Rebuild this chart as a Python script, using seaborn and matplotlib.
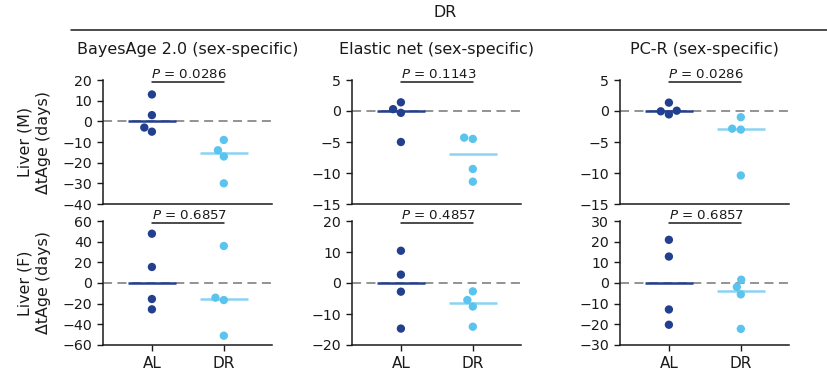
import numpy as np
import pandas as pd
import matplotlib
matplotlib.use("Agg")
import matplotlib.pyplot as plt
from matplotlib.lines import Line2D
import seaborn as sns

sns.set_theme(style="ticks")
plt.rcParams['font.family'] = ['DejaVu Sans']
plt.rcParams['mathtext.fontset'] = 'dejavusans'
plt.rcParams['text.color'] = '#1a1a1a'
plt.rcParams['xtick.color'] = '#1a1a1a'
plt.rcParams['ytick.color'] = '#1a1a1a'
plt.rcParams['axes.labelcolor'] = '#1a1a1a'

groups = ["AL", "DR"]
methods = ["BayesAge 2.0 (sex-specific)", "Elastic net (sex-specific)", "PC-R (sex-specific)"]
tissues = ["Liver (M)", "Liver (F)"]

bayes_m_al = [13.0, 3.0, -5.0, -3.0]
bayes_m_dr = [-9.0, -14.0, -17.0, -30.0]
bayes_f_al = [47.7, 15.5, -15.5, -25.5]
bayes_f_dr = [35.8, -14.2, -16.5, -51.0]
enet_m_al = [0.3, 1.4, -0.3, -5.0]
enet_m_dr = [-4.5, -4.3, -9.35, -11.4]
enet_f_al = [10.4, 2.7, -2.8, -14.7]
enet_f_dr = [-2.7, -5.5, -7.6, -14.1]
pcr_m_al = [-0.55, 1.35, 0.05, -0.05]
pcr_m_dr = [-1.0, -2.85, -3.0, -10.4]
pcr_f_al = [20.9, 12.8, -12.8, -20.2]
pcr_f_dr = [1.6, -1.9, -5.5, -22.2]

pvals = [["0.0286", "0.1143", "0.0286"],
         ["0.6857", "0.4857", "0.6857"]]
ylims = [[(-40, 20), (-15, 5), (-15, 5)],
         [(-60, 60), (-20, 20), (-30, 30)]]
yticks = [[np.arange(-40, 21, 10), np.arange(-15, 6, 5), np.arange(-15, 6, 5)],
          [np.arange(-60, 61, 20), np.arange(-20, 21, 10), np.arange(-30, 31, 10)]]

data = [[(bayes_m_al, bayes_m_dr), (enet_m_al, enet_m_dr), (pcr_m_al, pcr_m_dr)],
        [(bayes_f_al, bayes_f_dr), (enet_f_al, enet_f_dr), (pcr_f_al, pcr_f_dr)]]

navy = "#233f8f"
light = "#5bc4ee"
light_line = "#8ad4f2"
palette = {"AL": navy, "DR": light}
line_cols = {"AL": navy, "DR": light_line}

W, H = 827, 375
fig = plt.figure(figsize=(W / 100, H / 100), dpi=100)

col_x = [103, 352, 620]
ax_w = 169
row_top = [80, 221]
ax_h = 124

FS = 10.2
INK = "#1a1a1a"

for r in range(2):
    for c in range(3):
        left = col_x[c] / W
        bottom = 1 - (row_top[r] + ax_h) / H
        ax = fig.add_axes([left, bottom, ax_w / W, ax_h / H])
        al, dr = data[r][c]
        df = pd.DataFrame({"group": ["AL"] * len(al) + ["DR"] * len(dr),
                           "value": list(al) + list(dr)})
        ax.axhline(0, color="#8a8a8a", lw=1.3, ls=(0, (5, 3)), zorder=1)
        for i, g in enumerate(groups):
            med = np.median(df.loc[df.group == g, "value"])
            ax.hlines(med, i - 0.33, i + 0.33, color=line_cols[g], lw=1.8, zorder=2)
        sns.swarmplot(data=df, x="group", y="value", hue="group", order=groups,
                      palette=palette, size=6.0, legend=False, ax=ax, zorder=3,
                      linewidth=0)
        ax.set_xlim(-0.68, 1.67)
        ax.set_ylim(*ylims[r][c])
        ax.set_yticks(yticks[r][c])
        sns.despine(ax=ax)
        ax.tick_params(axis="y", labelsize=FS, length=4, width=1, pad=4, color=INK)
        ax.tick_params(axis="x", labelsize=FS + 0.8, length=4, width=1, pad=4, color=INK)
        for s in ["left", "bottom"]:
            ax.spines[s].set_linewidth(1.1)
            ax.spines[s].set_color(INK)
        ax.set_xlabel("")
        if r == 0:
            ax.set_xticks([0, 1])
            ax.set_xticklabels([])
            ax.tick_params(axis="x", length=0)
            ax.set_title(methods[c], fontsize=FS + 1.3, pad=19, color=INK)
        else:
            ax.set_xticks([0, 1])
            ax.set_xticklabels(groups)
        if c == 0:
            ax.set_ylabel(tissues[r] + "\nΔtAge (days)", fontsize=FS + 1.2, linespacing=1.25)
            ax.yaxis.set_label_coords(-0.31, 0.5)
        else:
            ax.set_ylabel("")
        trans = ax.get_xaxis_transform()
        ax.plot([0, 1], [0.982, 0.982], color=INK, lw=1.1, transform=trans, clip_on=False)
        ax.annotate("$P$ = " + pvals[r][c], xy=(0.52, 0.982), xycoords=trans,
                    xytext=(0, 3), textcoords="offset points", ha="center", va="baseline",
                    fontsize=FS - 0.6, annotation_clip=False)

fig.add_artist(Line2D([71 / W, 1.0], [1 - 30 / H, 1 - 30 / H], color=INK, lw=1.1,
                      transform=fig.transFigure))
fig.text(445 / W, 1 - 12.5 / H, "DR", ha="center", va="center", fontsize=FS + 1.2)

fig.savefig("out.png", dpi=100)
